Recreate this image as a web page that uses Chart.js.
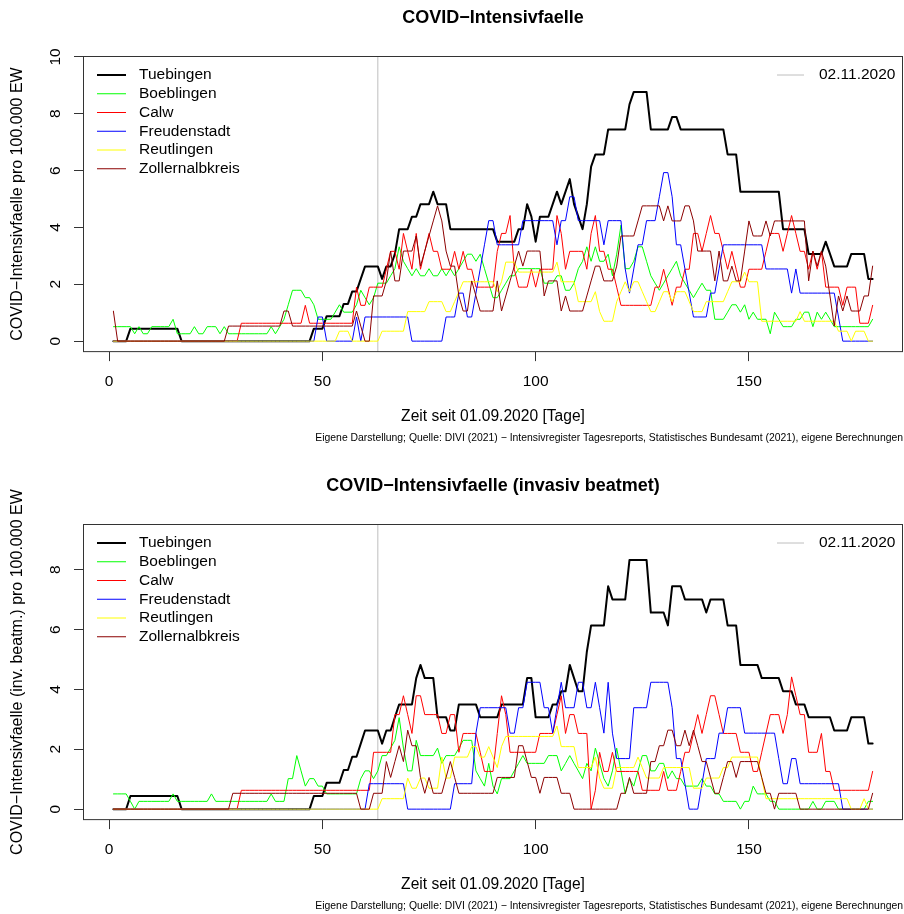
<!DOCTYPE html>
<html>
<head>
<meta charset="utf-8">
<title>COVID-Intensivfaelle</title>
<script src="https://cdn.jsdelivr.net/npm/chart.js@4.4.1/dist/chart.umd.min.js"></script>
<style>
  body { margin: 0; background: #fff; }
  .panel { position: absolute; left: 0; width: 904px; height: 446px; }
</style>
</head>
<body>
<div class="panel" style="top:0"><canvas id="icuChart" width="904" height="446"></canvas></div>
<div class="panel" style="top:468px"><canvas id="ventChart" width="904" height="446"></canvas></div>
<script>
// Regions and colours (R: black, green, red, blue, yellow, darkred)
const regions = ['Tuebingen', 'Boeblingen', 'Calw', 'Freudenstadt', 'Reutlingen', 'Zollernalbkreis'];
const regionColors = ['#000000', '#00FF00', '#FF0000', '#0000FF', '#FFFF00', '#8B0000'];
const regionWidths = [2, 1, 1, 1, 1, 1];

const xTicks = [0, 50, 100, 150];
const icuYTicks = [0, 2, 4, 6, 8, 10];
const ventYTicks = [0, 2, 4, 6, 8];
const markerDay = 63;
const markerLabel = '02.11.2020';

// COVID-Intensivfaelle pro 100.000 EW, Tag 1..179
const icuTue = [
  0, 0, 0, 0, 0.44, 0.44, 0.44, 0.44, 0.44, 0.44,
  0.44, 0.44, 0.44, 0.44, 0.44, 0.44, 0, 0, 0, 0,
  0, 0, 0, 0, 0, 0, 0, 0, 0, 0,
  0, 0, 0, 0, 0, 0, 0, 0, 0, 0,
  0, 0, 0, 0, 0, 0, 0, 0.44, 0.44, 0.44,
  0.88, 0.88, 0.88, 0.88, 1.31, 1.31, 1.75, 1.75, 2.19, 2.63,
  2.63, 2.63, 2.63, 2.19, 2.63, 2.63, 3.07, 3.94, 3.94, 3.94,
  4.38, 4.38, 4.82, 4.82, 4.82, 5.26, 4.82, 4.82, 4.82, 3.94,
  3.94, 3.94, 3.94, 3.94, 3.94, 3.94, 3.94, 3.94, 3.94, 3.94,
  3.5, 3.5, 3.5, 3.5, 3.5, 3.94, 3.94, 4.82, 4.38, 3.5,
  4.38, 4.38, 4.38, 4.82, 5.26, 4.82, 5.26, 5.7, 4.82, 4.38,
  3.94, 4.82, 6.14, 6.57, 6.57, 6.57, 7.45, 7.45, 7.45, 7.45,
  7.45, 8.33, 8.77, 8.77, 8.77, 8.77, 7.45, 7.45, 7.45, 7.45,
  7.45, 7.89, 7.89, 7.45, 7.45, 7.45, 7.45, 7.45, 7.45, 7.45,
  7.45, 7.45, 7.45, 7.45, 6.57, 6.57, 6.57, 5.26, 5.26, 5.26,
  5.26, 5.26, 5.26, 5.26, 5.26, 5.26, 5.26, 3.94, 3.94, 3.94,
  3.94, 3.94, 3.94, 3.07, 3.07, 3.07, 3.07, 3.5, 3.07, 2.63,
  2.63, 2.63, 2.63, 3.07, 3.07, 3.07, 3.07, 2.19, 2.19
];
const icuBoe = [
  0.51, 0.51, 0.51, 0.51, 0.51, 0.26, 0.51, 0.26, 0.26, 0.51,
  0.51, 0.51, 0.51, 0.51, 0.77, 0.26, 0.26, 0.26, 0.26, 0.51,
  0.26, 0.26, 0.51, 0.51, 0.51, 0.26, 0.51, 0.26, 0.26, 0.26,
  0.26, 0.26, 0.26, 0.26, 0.26, 0.26, 0.26, 0.51, 0.26, 0.51,
  0.77, 1.28, 1.79, 1.79, 1.79, 1.53, 1.53, 1.28, 0.77, 0.77,
  0.77, 0.77, 1.02, 1.28, 1.02, 1.02, 1.02, 1.28, 1.79, 1.53,
  1.28, 1.53, 2.04, 2.04, 2.04, 2.3, 2.55, 3.32, 2.81, 2.55,
  2.3, 2.55, 2.3, 2.3, 2.55, 2.3, 2.3, 2.55, 2.3, 2.55,
  2.3, 2.55, 2.81, 3.06, 3.06, 2.81, 3.06, 2.55, 2.04, 1.53,
  1.53, 1.79, 2.04, 2.3, 2.3, 2.55, 2.55, 2.55, 2.55, 2.55,
  2.55, 2.04, 2.04, 2.04, 2.3, 2.3, 1.79, 1.79, 2.04, 2.55,
  2.81, 3.32, 2.81, 3.32, 2.81, 2.81, 3.06, 2.3, 3.06, 4.08,
  2.55, 2.55, 2.81, 3.32, 3.32, 2.81, 2.3, 2.04, 1.79, 2.04,
  2.3, 2.55, 2.81, 2.3, 2.04, 1.79, 1.53, 1.79, 2.04, 1.79,
  1.79, 0.77, 0.77, 0.77, 1.02, 1.28, 1.28, 1.02, 1.28, 0.77,
  1.02, 0.77, 0.77, 0.77, 0.26, 1.02, 0.77, 0.51, 0.51, 0.51,
  0.77, 0.77, 1.02, 1.02, 0.51, 1.02, 0.77, 1.02, 0.77, 0.51,
  0.51, 0.51, 0.51, 0.51, 0.51, 0.51, 0.51, 0.51, 0.77
];
const icuCal = [
  0, 0, 0, 0, 0, 0, 0, 0, 0, 0,
  0, 0, 0, 0, 0, 0, 0, 0, 0, 0,
  0, 0, 0, 0, 0, 0, 0, 0, 0, 0,
  0.63, 0.63, 0.63, 0.63, 0.63, 0.63, 0.63, 0.63, 0.63, 0.63,
  0.63, 0.63, 0.63, 0.63, 0.63, 1.26, 0.63, 0.63, 0.63, 0.63,
  0.63, 0.63, 0.63, 0.63, 0.63, 0.63, 0.63, 1.9, 1.26, 1.26,
  1.9, 1.9, 1.9, 1.9, 2.53, 3.16, 3.16, 2.53, 3.79, 3.16,
  2.53, 3.79, 2.53, 3.16, 3.79, 3.16, 3.16, 2.53, 2.53, 2.53,
  3.16, 2.53, 3.16, 2.53, 2.53, 1.9, 1.9, 1.9, 1.9, 1.9,
  3.16, 3.79, 3.79, 4.42, 2.53, 1.9, 1.9, 1.9, 2.53, 1.9,
  2.53, 2.53, 2.53, 2.53, 4.42, 3.79, 2.53, 3.16, 3.16, 3.16,
  3.16, 2.53, 3.79, 4.42, 3.16, 3.16, 2.53, 2.53, 1.9, 1.26,
  1.26, 1.26, 1.26, 1.26, 1.26, 1.26, 1.26, 1.9, 1.9, 2.53,
  1.9, 1.26, 1.9, 1.9, 2.53, 2.53, 3.79, 3.79, 3.16, 3.79,
  4.42, 3.79, 3.79, 3.16, 2.53, 3.16, 2.53, 1.9, 1.9, 2.53,
  2.53, 2.53, 2.53, 3.16, 3.79, 3.79, 3.79, 3.16, 3.79, 4.42,
  3.79, 3.16, 3.16, 2.53, 3.16, 2.53, 3.16, 1.9, 1.9, 1.9,
  1.9, 1.26, 1.9, 1.9, 1.9, 0.63, 0.63, 0.63, 1.26
];
const icuFre = [
  0, 0, 0, 0, 0, 0, 0, 0, 0, 0,
  0, 0, 0, 0, 0, 0, 0, 0, 0, 0,
  0, 0, 0, 0, 0, 0, 0, 0, 0, 0,
  0, 0, 0, 0, 0, 0, 0, 0, 0, 0,
  0, 0, 0, 0, 0, 0, 0, 0, 0.85, 0.85,
  0, 0, 0, 0, 0, 0, 0, 0.85, 0, 0.85,
  0.85, 0.85, 0.85, 0.85, 0.85, 0.85, 0.85, 0.85, 0.85, 0.85,
  0, 0, 0, 0, 0, 0, 0, 0, 0.85, 0.85,
  0.85, 1.69, 1.69, 0.85, 0.85, 1.69, 2.54, 3.39, 4.24, 4.24,
  3.39, 3.39, 3.39, 3.39, 3.39, 3.39, 4.24, 4.24, 4.24, 4.24,
  4.24, 4.24, 4.24, 4.24, 3.39, 4.24, 4.24, 5.08, 5.08, 4.24,
  4.24, 4.24, 4.24, 4.24, 4.24, 3.39, 4.24, 4.24, 4.24, 4.24,
  2.54, 1.69, 2.54, 3.39, 3.39, 4.24, 4.24, 4.24, 5.08, 5.93,
  5.93, 5.08, 3.39, 3.39, 2.54, 1.69, 0.85, 0.85, 0.85, 0.85,
  1.69, 1.69, 2.54, 3.39, 3.39, 3.39, 3.39, 3.39, 3.39, 3.39,
  3.39, 3.39, 3.39, 2.54, 2.54, 2.54, 2.54, 2.54, 2.54, 1.69,
  2.54, 1.69, 1.69, 1.69, 1.69, 1.69, 1.69, 1.69, 1.69, 1.69,
  0.85, 0, 0, 0, 0, 0, 0, 0, 0
];
const icuReu = [
  0, 0, 0, 0, 0, 0, 0, 0, 0, 0,
  0, 0, 0, 0, 0, 0, 0, 0, 0, 0,
  0, 0, 0, 0, 0, 0, 0, 0, 0, 0,
  0, 0, 0, 0, 0, 0, 0, 0, 0, 0,
  0, 0, 0, 0, 0, 0, 0, 0, 0, 0,
  0, 0, 0, 0.35, 0.35, 0.35, 0, 0, 0, 0,
  0, 0, 0, 0.35, 0.35, 0.35, 0.35, 0.35, 0.35, 1.04,
  1.04, 1.04, 1.04, 1.04, 1.39, 1.39, 1.39, 1.39, 1.04, 1.04,
  1.39, 1.74, 2.09, 2.09, 2.09, 2.09, 2.09, 2.09, 2.09, 2.09,
  1.74, 2.09, 2.78, 2.78, 2.78, 2.43, 2.43, 2.43, 2.43, 2.43,
  2.43, 2.43, 2.43, 2.43, 2.78, 2.09, 2.09, 2.09, 2.09, 1.39,
  1.39, 1.39, 1.39, 1.74, 1.04, 0.7, 0.7, 0.7, 1.39, 1.74,
  2.09, 1.74, 2.09, 2.09, 1.74, 1.39, 1.04, 1.04, 1.39, 1.74,
  1.74, 1.39, 1.74, 1.74, 1.74, 1.39, 1.04, 1.04, 1.04, 1.39,
  1.39, 1.39, 1.39, 1.39, 1.74, 2.09, 2.09, 2.09, 2.43, 2.09,
  2.09, 2.09, 0.7, 0.7, 0.7, 0.7, 0.7, 0.7, 0.7, 0.7,
  0.7, 1.04, 0.7, 0.7, 0.7, 0.7, 0.7, 0.7, 0.7, 0.7,
  0.35, 0.35, 0.35, 0, 0.35, 0.35, 0.35, 0, 0
];
const icuZol = [
  1.06, 0, 0, 0, 0, 0, 0, 0, 0, 0,
  0, 0, 0, 0, 0, 0, 0, 0, 0, 0,
  0, 0, 0, 0, 0, 0, 0, 0.53, 0.53, 0.53,
  0.53, 0.53, 0.53, 0.53, 0.53, 0.53, 0.53, 0.53, 0.53, 0.53,
  1.06, 1.06, 0.53, 0.53, 0.53, 0.53, 0.53, 0.53, 0.53, 0.53,
  0.53, 0.53, 0.53, 0.53, 0.53, 0.53, 0.53, 1.06, 0.53, 0,
  0, 1.59, 1.59, 1.59, 2.12, 3.17, 2.12, 2.12, 3.17, 3.17,
  3.17, 3.7, 2.64, 3.17, 3.7, 4.23, 4.76, 4.23, 3.17, 2.64,
  2.64, 1.59, 1.06, 1.06, 2.12, 1.59, 1.06, 1.06, 1.06, 1.06,
  2.12, 1.06, 1.59, 2.12, 2.64, 3.17, 2.64, 3.17, 3.17, 3.17,
  3.17, 1.59, 2.12, 2.12, 2.12, 1.06, 1.59, 1.06, 1.06, 1.06,
  1.06, 1.59, 2.12, 2.64, 2.64, 2.12, 2.12, 2.12, 2.64, 3.7,
  3.7, 3.7, 3.7, 4.23, 4.76, 4.76, 4.76, 4.76, 4.76, 4.23,
  4.76, 4.23, 4.23, 4.23, 4.76, 4.76, 4.23, 3.17, 3.17, 3.17,
  3.17, 2.12, 3.17, 2.12, 2.12, 2.64, 2.12, 2.12, 3.17, 4.23,
  3.7, 3.7, 3.7, 4.23, 3.7, 4.23, 4.23, 4.23, 4.23, 4.23,
  4.23, 4.23, 4.23, 2.12, 3.17, 2.64, 3.17, 2.64, 1.59, 0.53,
  1.59, 1.06, 1.59, 1.06, 1.06, 1.06, 1.59, 1.59, 2.64
];

// COVID-Intensivfaelle (invasiv beatmet) pro 100.000 EW, Tag 1..179
const ventTue = [
  0, 0, 0, 0, 0.44, 0.44, 0.44, 0.44, 0.44, 0.44,
  0.44, 0.44, 0.44, 0.44, 0.44, 0.44, 0, 0, 0, 0,
  0, 0, 0, 0, 0, 0, 0, 0, 0, 0,
  0, 0, 0, 0, 0, 0, 0, 0, 0, 0,
  0, 0, 0, 0, 0, 0, 0, 0.44, 0.44, 0.44,
  0.88, 0.88, 0.88, 0.88, 1.31, 1.31, 1.75, 1.75, 2.19, 2.63,
  2.63, 2.63, 2.63, 2.19, 2.63, 2.63, 3.07, 3.5, 3.5, 3.5,
  3.5, 4.38, 4.82, 4.38, 4.38, 4.38, 3.07, 3.07, 3.07, 2.63,
  2.63, 3.5, 3.5, 3.5, 3.5, 3.5, 3.07, 3.07, 3.07, 3.07,
  3.07, 3.5, 3.5, 3.5, 3.5, 3.5, 3.5, 4.38, 4.38, 3.07,
  3.07, 3.07, 3.07, 3.5, 3.5, 3.94, 3.94, 4.82, 4.38, 3.94,
  3.94, 5.26, 6.14, 6.14, 6.14, 6.14, 7.45, 7.01, 7.01, 7.01,
  7.01, 8.33, 8.33, 8.33, 8.33, 8.33, 6.57, 6.57, 6.57, 6.57,
  6.14, 7.45, 7.45, 7.45, 7.01, 7.01, 7.01, 7.01, 7.01, 6.57,
  7.01, 7.01, 7.01, 7.01, 6.14, 6.14, 6.14, 4.82, 4.82, 4.82,
  4.82, 4.82, 4.38, 4.38, 4.38, 4.38, 4.38, 3.94, 3.94, 3.94,
  3.5, 3.5, 3.5, 3.07, 3.07, 3.07, 3.07, 3.07, 3.07, 2.63,
  2.63, 2.63, 2.63, 3.07, 3.07, 3.07, 3.07, 2.19, 2.19
];
const ventBoe = [
  0.51, 0.51, 0.51, 0.51, 0.26, 0, 0.26, 0.26, 0.26, 0.26,
  0.26, 0.26, 0.26, 0.26, 0.51, 0.26, 0.26, 0.26, 0.26, 0.26,
  0.26, 0.26, 0.26, 0.51, 0.26, 0.26, 0.26, 0.26, 0.26, 0.26,
  0.26, 0.26, 0.26, 0.26, 0.26, 0.26, 0.26, 0.51, 0.26, 0.26,
  0.26, 1.02, 1.02, 1.79, 1.28, 0.77, 1.02, 1.02, 0.77, 0.77,
  0.51, 0.51, 0.51, 0.51, 0.51, 0.51, 0.51, 0.51, 1.02, 1.28,
  1.28, 1.02, 1.28, 1.79, 1.79, 2.04, 2.3, 3.06, 2.04, 1.28,
  1.28, 2.3, 1.79, 1.79, 1.79, 1.79, 2.04, 1.53, 1.79, 1.79,
  1.79, 2.04, 2.3, 2.3, 2.3, 1.28, 1.02, 0.77, 1.53, 0.77,
  0.51, 1.02, 1.02, 1.02, 1.28, 1.53, 1.79, 1.53, 1.53, 1.53,
  1.53, 1.53, 1.79, 1.79, 1.79, 1.28, 1.53, 1.79, 1.53, 1.28,
  1.02, 1.53, 1.28, 2.04, 1.53, 1.02, 0.77, 1.28, 2.04, 1.28,
  0.51, 1.02, 0.77, 1.28, 1.79, 1.79, 1.28, 1.28, 1.53, 1.53,
  1.02, 1.28, 1.02, 1.02, 0.77, 0.77, 0.77, 0.77, 1.02, 0.77,
  0.77, 0.51, 0.51, 0.26, 0.26, 0.26, 0.26, 0, 0.26, 0.26,
  0.77, 0.51, 0.51, 0.51, 0.26, 0.26, 0, 0, 0, 0,
  0, 0, 0, 0, 0.26, 0, 0, 0.26, 0.26, 0.26,
  0, 0, 0, 0, 0, 0, 0, 0.26, 0.26
];
const ventCal = [
  0, 0, 0, 0, 0, 0, 0, 0, 0, 0,
  0, 0, 0, 0, 0, 0, 0, 0, 0, 0,
  0, 0, 0, 0, 0, 0, 0, 0, 0, 0,
  0.63, 0.63, 0.63, 0.63, 0.63, 0.63, 0.63, 0.63, 0.63, 0.63,
  0.63, 0.63, 0.63, 0.63, 0.63, 0.63, 0.63, 0.63, 0.63, 0.63,
  0.63, 0.63, 0.63, 0.63, 0.63, 0.63, 0.63, 0.63, 0.63, 0.63,
  0.63, 1.9, 1.9, 1.9, 1.9, 1.9, 3.16, 3.16, 3.79, 3.16,
  2.53, 3.79, 3.79, 3.16, 3.16, 3.16, 3.16, 2.53, 2.53, 3.16,
  3.16, 1.9, 2.53, 2.53, 2.53, 2.53, 1.9, 1.26, 1.26, 1.26,
  2.53, 3.79, 3.16, 1.9, 1.9, 1.9, 1.9, 1.9, 1.9, 1.9,
  2.53, 2.53, 2.53, 2.53, 3.16, 3.79, 2.53, 3.16, 3.16, 2.53,
  2.53, 2.53, 0, 0.63, 1.9, 1.26, 1.26, 1.9, 1.26, 1.26,
  1.26, 1.26, 1.26, 1.26, 0.63, 0.63, 0.63, 0.63, 0.63, 1.26,
  0.63, 0.63, 0.63, 1.26, 1.9, 1.9, 2.53, 3.16, 2.53, 3.16,
  3.79, 3.79, 3.16, 2.53, 2.53, 2.53, 2.53, 1.9, 1.9, 1.9,
  1.26, 1.26, 1.9, 2.53, 3.16, 3.16, 3.16, 2.53, 3.16, 4.42,
  3.79, 3.16, 3.16, 1.9, 1.9, 1.9, 2.53, 1.26, 1.26, 0.63,
  0.63, 0.63, 0.63, 0.63, 0.63, 0.63, 0.63, 0.63, 1.26
];
const ventFre = [
  0, 0, 0, 0, 0, 0, 0, 0, 0, 0,
  0, 0, 0, 0, 0, 0, 0, 0, 0, 0,
  0, 0, 0, 0, 0, 0, 0, 0, 0, 0,
  0, 0, 0, 0, 0, 0, 0, 0, 0, 0,
  0, 0, 0, 0, 0, 0, 0, 0, 0, 0,
  0, 0, 0, 0, 0, 0, 0, 0, 0, 0,
  0.85, 0.85, 0.85, 0.85, 0.85, 0.85, 0.85, 0.85, 0.85, 0,
  0, 0, 0, 0, 0, 0, 0, 0, 0, 0,
  0.85, 0.85, 0.85, 0.85, 0.85, 2.54, 3.39, 3.39, 3.39, 3.39,
  3.39, 3.39, 3.39, 2.54, 2.54, 3.39, 3.39, 4.24, 4.24, 4.24,
  4.24, 3.39, 3.39, 2.54, 3.39, 4.24, 3.39, 3.39, 3.39, 4.24,
  4.24, 3.39, 3.39, 4.24, 3.39, 2.54, 4.24, 2.54, 1.69, 1.69,
  1.69, 1.69, 3.39, 3.39, 3.39, 3.39, 4.24, 4.24, 4.24, 4.24,
  4.24, 3.39, 1.69, 1.69, 0.85, 0, 0, 0, 0.85, 1.69,
  1.69, 1.69, 2.54, 2.54, 3.39, 3.39, 3.39, 3.39, 2.54, 2.54,
  2.54, 2.54, 2.54, 2.54, 2.54, 2.54, 1.69, 0.85, 0.85, 1.69,
  1.69, 0.85, 0.85, 0.85, 0.85, 0.85, 0.85, 0.85, 0.85, 0.85,
  0.85, 0, 0, 0, 0, 0, 0, 0, 0
];
const ventReu = [
  0, 0, 0, 0, 0, 0, 0, 0, 0, 0,
  0, 0, 0, 0, 0, 0, 0, 0, 0, 0,
  0, 0, 0, 0, 0, 0, 0, 0, 0, 0,
  0, 0, 0, 0, 0, 0, 0, 0, 0, 0,
  0, 0, 0, 0, 0, 0, 0, 0, 0, 0,
  0, 0, 0, 0, 0, 0, 0, 0, 0, 0,
  0, 0, 0, 0.35, 0.35, 0.35, 0.35, 0.35, 0.35, 1.04,
  0.7, 0.7, 1.04, 1.04, 0.7, 0.7, 0.7, 1.74, 1.04, 1.04,
  1.74, 1.74, 1.74, 1.74, 2.09, 2.09, 1.74, 1.74, 2.09, 1.74,
  1.39, 2.09, 2.43, 2.43, 2.43, 2.43, 2.43, 2.43, 2.43, 2.43,
  2.43, 2.43, 2.43, 2.43, 2.78, 2.09, 2.09, 2.09, 2.09, 1.39,
  1.39, 1.39, 1.39, 1.74, 1.04, 0.7, 0.7, 0.7, 1.39, 1.39,
  1.39, 1.39, 1.39, 1.74, 1.39, 1.04, 1.04, 1.04, 1.04, 1.39,
  1.39, 1.39, 1.39, 1.39, 1.39, 1.39, 0.7, 0.7, 0.7, 1.04,
  1.04, 1.04, 1.04, 1.39, 1.39, 1.74, 1.74, 1.74, 1.74, 1.74,
  1.74, 1.74, 1.04, 0.35, 0.35, 0.35, 0.35, 0.35, 0.35, 0.35,
  0.35, 0.35, 0.35, 0.35, 0.35, 0.35, 0.35, 0.35, 0.35, 0.35,
  0.35, 0.35, 0.35, 0, 0, 0, 0.35, 0, 0
];
const ventZol = [
  0, 0, 0, 0, 0, 0, 0, 0, 0, 0,
  0, 0, 0, 0, 0, 0, 0, 0, 0, 0,
  0, 0, 0, 0, 0, 0, 0, 0, 0.53, 0.53,
  0.53, 0.53, 0.53, 0.53, 0.53, 0.53, 0.53, 0.53, 0.53, 0.53,
  0.53, 0.53, 0.53, 0.53, 0.53, 0.53, 0.53, 0.53, 0.53, 0.53,
  0.53, 0.53, 0.53, 0.53, 0.53, 0.53, 0.53, 0.53, 0, 0,
  0, 0.53, 0.53, 0.53, 1.59, 1.06, 1.59, 2.12, 1.59, 2.64,
  2.12, 2.12, 1.06, 0.53, 1.06, 0.53, 0.53, 0.53, 1.06, 1.59,
  1.06, 0.53, 0.53, 0.53, 0.53, 0.53, 0.53, 0.53, 0.53, 0.53,
  1.06, 1.06, 1.06, 1.06, 1.06, 2.12, 2.12, 1.59, 1.06, 1.06,
  0.53, 1.06, 1.06, 1.06, 1.06, 0.53, 0.53, 0.53, 0, 0,
  0, 0, 0, 0, 0, 0, 0, 0, 0, 0.53,
  0.53, 1.06, 0.53, 0.53, 0.53, 0.53, 1.59, 1.59, 2.12, 2.12,
  2.64, 2.64, 2.12, 2.12, 2.64, 2.12, 2.64, 2.12, 1.59, 1.59,
  1.06, 0.53, 0.53, 1.06, 1.59, 1.59, 1.06, 1.59, 1.59, 1.59,
  1.59, 1.59, 1.06, 0.53, 0.53, 0, 0.53, 0.53, 0.53, 0.53,
  0.53, 0, 0, 0, 0, 0, 0, 0, 0, 0,
  0, 0, 0, 0, 0, 0, 0, 0, 0.53
];

const days = Array.from({ length: icuTue.length }, (_, i) => i + 1);

const xTitle = 'Zeit seit 01.09.2020 [Tage]';
const sourceNote = 'Eigene Darstellung; Quelle: DIVI (2021) \u2212 Intensivregister Tagesreports, Statistisches Bundesamt (2021), eigene Berechnungen';

Chart.defaults.font.family = '"Liberation Sans", Arial, Helvetica, sans-serif';
Chart.defaults.color = '#000';

// Title, box, rotated y labels and the two legends the way R draws them
const rFrame = {
  id: 'rFrame',
  afterDatasetsDraw(chart) {
    const { ctx, chartArea: a } = chart;
    ctx.save();
    ctx.strokeStyle = '#333';
    ctx.lineWidth = 1;
    ctx.strokeRect(a.left + 0.5, a.top + 0.5, a.right - a.left - 1, a.bottom - a.top - 1);
    ctx.restore();
  },
  afterDraw(chart, args, opts) {
    const { ctx, chartArea: a } = chart;
    const family = Chart.defaults.font.family;
    ctx.save();
    ctx.fillStyle = '#000';
    ctx.textBaseline = 'middle';

    ctx.font = 'bold 18px ' + family;
    ctx.textAlign = 'center';
    ctx.fillText(opts.title, (a.left + a.right) / 2, 18);

    // y tick labels, parallel to the axis
    ctx.font = '15.5px ' + family;
    const y = chart.scales.y;
    y.ticks.forEach(t => {
      ctx.save();
      ctx.translate(55.5, y.getPixelForValue(t.value));
      ctx.rotate(-Math.PI / 2);
      ctx.fillText(String(t.value), 0, 0);
      ctx.restore();
    });

    // legend of the regions, top left
    ctx.textAlign = 'left';
    const series = chart.data.datasets.filter(ds => !ds.isMarker);
    series.forEach((ds, i) => {
      const ly = a.top + 19 + i * 18.75;
      ctx.strokeStyle = ds.borderColor;
      ctx.lineWidth = ds.borderWidth;
      ctx.beginPath();
      ctx.moveTo(a.left + 14, ly);
      ctx.lineTo(a.left + 43, ly);
      ctx.stroke();
      ctx.fillText(ds.label, a.left + 56, ly);
    });

    // legend of the marker line, top right
    const marker = chart.data.datasets.find(ds => ds.isMarker);
    const my = a.top + 19;
    ctx.strokeStyle = marker.borderColor;
    ctx.lineWidth = 1;
    ctx.beginPath();
    ctx.moveTo(a.right - 126, my);
    ctx.lineTo(a.right - 99, my);
    ctx.stroke();
    ctx.fillText(marker.label, a.right - 84, my);
    ctx.restore();
  }
};

function buildPanel(canvasId, title, yTitle, series, yTicks) {
  series.forEach(s => {
    if (s.length !== days.length) throw new Error(canvasId + ': series length ' + s.length);
  });
  // R: ylim = c(0, 1.1 * max), both axes with the default 4 % extension
  const top = 1.1 * Math.max(...series.flat());
  const yMin = -0.04 * top;
  const yMax = 1.04 * top;
  const span = days[days.length - 1] - days[0];
  const xMin = days[0] - 0.04 * span;
  const xMax = days[days.length - 1] + 0.04 * span;

  const datasets = series.map((values, i) => ({
    label: regions[i],
    data: values.map((v, j) => ({ x: days[j], y: v })),
    borderColor: regionColors[i],
    backgroundColor: regionColors[i],
    borderWidth: regionWidths[i],
    order: regions.length - i,
    fill: false
  }));
  datasets.push({
    label: markerLabel,
    isMarker: true,
    data: [{ x: markerDay, y: yMin }, { x: markerDay, y: yMax }],
    borderColor: '#BEBEBE',
    borderWidth: 1,
    order: regions.length + 1,
    fill: false
  });

  return new Chart(document.getElementById(canvasId), {
    type: 'line',
    data: { datasets },
    options: {
      responsive: false,
      animation: false,
      devicePixelRatio: 1,
      layout: { padding: { top: 56, right: 1, bottom: 0, left: 0 } },
      elements: {
        point: { radius: 0, hoverRadius: 0 },
        line: { tension: 0, borderJoinStyle: 'round', borderCapStyle: 'round' }
      },
      scales: {
        x: {
          type: 'linear',
          min: xMin,
          max: xMax,
          afterBuildTicks: s => { s.ticks = xTicks.map(v => ({ value: v })); },
          afterFit: s => { s.height = 79.4; },
          ticks: { padding: 11, maxRotation: 0, font: { size: 15.5 }, color: '#000' },
          grid: { drawOnChartArea: false, drawTicks: true, tickLength: 9, color: '#333' },
          border: { display: false },
          title: { display: true, text: xTitle, font: { size: 15.6 }, color: '#000', padding: { top: 0, bottom: 5.4 } }
        },
        y: {
          type: 'linear',
          min: yMin,
          max: yMax,
          afterBuildTicks: s => { s.ticks = yTicks.map(v => ({ value: v })); },
          afterFit: s => { s.width = 83; },
          ticks: { display: false },
          grid: { drawOnChartArea: false, drawTicks: true, tickLength: 9, color: '#333' },
          border: { display: false },
          title: { display: true, text: yTitle, font: { size: 16 }, color: '#000', padding: { top: 8.4, bottom: 0 } }
        }
      },
      plugins: {
        legend: { display: false },
        tooltip: { enabled: false },
        subtitle: {
          display: true,
          position: 'bottom',
          align: 'end',
          text: sourceNote,
          font: { size: 10.4 },
          color: '#000',
          padding: { top: 0, bottom: 2 }
        },
        rFrame: { title }
      }
    },
    plugins: [rFrame]
  });
}

buildPanel('icuChart', 'COVID\u2212Intensivfaelle', 'COVID\u2212Intensivfaelle pro 100.000 EW',
  [icuTue, icuBoe, icuCal, icuFre, icuReu, icuZol], icuYTicks);
buildPanel('ventChart', 'COVID\u2212Intensivfaelle (invasiv beatmet)', 'COVID\u2212Intensivfaelle (inv. beatm.) pro 100.000 EW',
  [ventTue, ventBoe, ventCal, ventFre, ventReu, ventZol], ventYTicks);
</script>
</body>
</html>
